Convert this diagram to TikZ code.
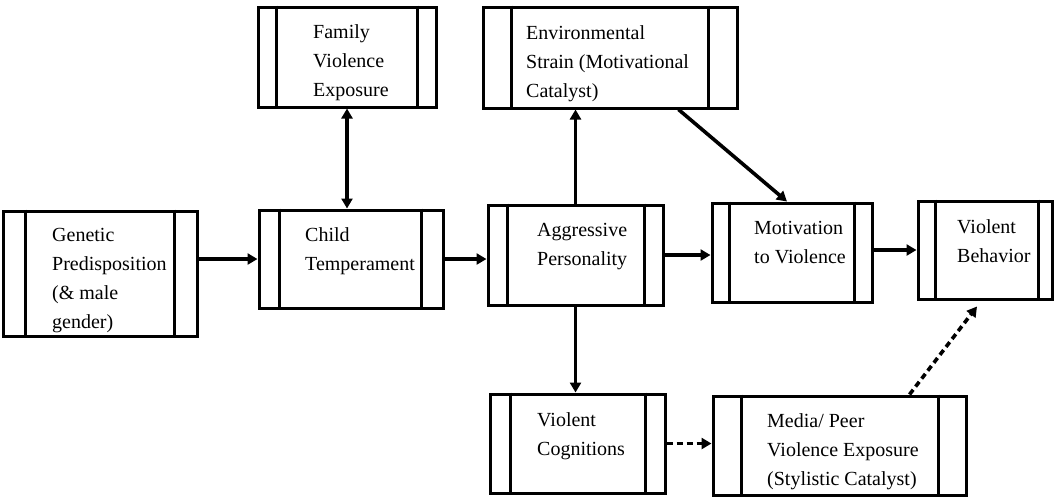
\documentclass[tikz,border=0pt]{standalone}
\usepackage{fontspec}
\setmainfont{Liberation Serif}
\usetikzlibrary{arrows.meta}

% A framed box with two vertical divider bars near its left and right sides.
% #1 name, #2/#3 centre, #4/#5 width/height, #6/#7 left/right bar inset
\newcommand\drawpanel[7]{%
  \node[panel, minimum width=#4pt, minimum height=#5pt] (#1) at (#2,#3) {};
  \draw[divider] ([xshift=#6pt]#1.north west) -- ([xshift=#6pt]#1.south west);
  \draw[divider] ([xshift=-#7pt]#1.north east) -- ([xshift=-#7pt]#1.south east);
}

\begin{document}
\begin{tikzpicture}[x=1pt, y=-1pt,
  panel/.style={draw, line width=3pt, inner sep=0pt},
  divider/.style={line width=2.2pt},
  txt/.style={anchor=north west, inner sep=0pt, align=left,
              font=\fontsize{20}{29}\selectfont},
  link/.style={line width=3.6pt, -{Triangle[length=10pt,width=11pt]}},
  twoway/.style={line width=3.6pt,
                 {Triangle[length=10pt,width=11pt]}-{Triangle[length=10pt,width=11pt]}},
  dlink/.style={link, dash pattern=on 6pt off 4pt},
]
\fill[white] (0,0) rectangle (1054,499);
\useasboundingbox (0,0) rectangle (1054,499);

% boxes
\drawpanel{gen}{100}{273.5}{194}{125}{24}{24}
\drawpanel{family}{347}{57}{178}{100}{20}{20}
\drawpanel{child}{351}{259}{184}{98}{22}{23}
\drawpanel{env}{610}{57.5}{254}{101}{30}{30}
\drawpanel{aggr}{575.5}{255}{175}{100}{21}{20}
\drawpanel{motiv}{792}{252.5}{160}{99}{19}{19}
\drawpanel{behav}{985}{250}{134}{98}{19}{15}
\drawpanel{cogn}{577.5}{443.5}{175}{99}{22}{21}
\drawpanel{media}{839.5}{445.5}{253}{99}{30}{29}

% box texts
\node[txt] (gen-t)    at (52,228)  {Genetic\\Predisposition\\(\& male\\gender)};
\node[txt] (family-t) at (313,24)  {Family\\Violence\\Exposure};
\node[txt] (child-t)  at (305,227) {Child\\Temperament};
\node[txt] (env-t)    at (526,25)  {Environmental\\Strain (Motivational\\Catalyst)};
\node[txt] (aggr-t)   at (537,223) {Aggressive\\Personality};
\node[txt] (motiv-t)  at (754,221) {Motivation\\to Violence};
\node[txt] (behav-t)  at (957,219) {Violent\\Behavior};
\node[txt] (cogn-t)   at (537,412) {Violent\\Cognitions};
\node[txt] (media-t)  at (767,413) {Media/ Peer\\Violence Exposure\\(Stylistic Catalyst)};

% connectors
\draw[link] (gen.east |- child.west) -- (child.west);
\draw[link] (child.east) -- (child.east -| aggr.west);
\draw[link] (aggr.east) -- (aggr.east -| motiv.west);
\draw[link] (motiv.east |- behav.west) -- (behav.west);
\draw[twoway] (family.south) -- (family.south |- child.north);
\draw[link] (aggr.north) -- (aggr.north |- env.south);
\draw[link] (aggr.south) -- (aggr.south |- cogn.north);
\draw[link] ([xshift=-60pt]env.south east) -- ([xshift=-5pt]motiv.north);
\draw[dlink] (cogn.east) -- (cogn.east -| media.west);
\draw[dlink] ([xshift=-58pt]media.north east) -- ([xshift=-8pt,yshift=-6pt]behav.south);
\end{tikzpicture}
\end{document}
